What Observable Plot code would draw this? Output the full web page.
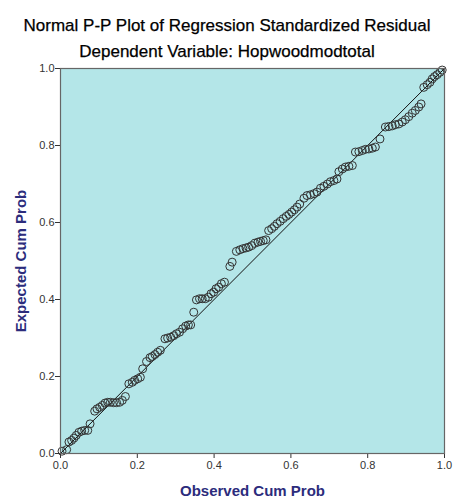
<!DOCTYPE html>
<html>
<head>
<meta charset="utf-8">
<script src="https://cdn.jsdelivr.net/npm/d3@7"></script>
<script src="https://cdn.jsdelivr.net/npm/@observablehq/plot@0.6"></script>
<style>
  html, body { margin: 0; padding: 0; background: #fff; }
  svg { display: block; }
</style>
</head>
<body>
<div id="chart"></div>
<script>
const title = "Normal P-P Plot of Regression Standardized Residual";
const subtitle = "Dependent Variable: Hopwoodmodtotal";
const xLabel = "Observed Cum Prob";
const yLabel = "Expected Cum Prob";
const tickValues = [0, 0.2, 0.4, 0.6, 0.8, 1.0];
const diagonal = [0, 1];

const observed = [
  0.004, 0.016, 0.022, 0.029, 0.035, 0.041, 0.048, 0.055, 0.063, 0.071,
  0.077, 0.089, 0.095, 0.102, 0.109, 0.116, 0.123, 0.130, 0.138, 0.146,
  0.154, 0.161, 0.169, 0.178, 0.187, 0.193, 0.201, 0.208, 0.214, 0.224,
  0.233, 0.239, 0.246, 0.253, 0.260, 0.272, 0.279, 0.287, 0.295, 0.302,
  0.310, 0.318, 0.326, 0.333, 0.339, 0.347, 0.354, 0.362, 0.369, 0.377,
  0.385, 0.392, 0.399, 0.405, 0.412, 0.419, 0.427, 0.441, 0.447, 0.458,
  0.467, 0.475, 0.483, 0.490, 0.498, 0.506, 0.514, 0.521, 0.528, 0.535,
  0.542, 0.550, 0.557, 0.564, 0.572, 0.580, 0.588, 0.595, 0.602, 0.609,
  0.616, 0.623, 0.634, 0.642, 0.651, 0.660, 0.668, 0.677, 0.686, 0.695,
  0.703, 0.712, 0.720, 0.725, 0.734, 0.742, 0.751, 0.760, 0.768, 0.777,
  0.786, 0.794, 0.803, 0.812, 0.820, 0.832, 0.846, 0.855, 0.864, 0.872,
  0.881, 0.890, 0.898, 0.907, 0.916, 0.924, 0.933, 0.939, 0.946, 0.955,
  0.962, 0.968, 0.974, 0.981, 0.988, 0.994
];
const expected = [
  0.006, 0.010, 0.030, 0.034, 0.040, 0.047, 0.055, 0.058, 0.060, 0.060,
  0.077, 0.110, 0.116, 0.120, 0.125, 0.131, 0.133, 0.133, 0.132, 0.132,
  0.133, 0.138, 0.148, 0.181, 0.185, 0.190, 0.194, 0.198, 0.220, 0.239,
  0.249, 0.252, 0.257, 0.263, 0.268, 0.298, 0.300, 0.302, 0.306, 0.311,
  0.315, 0.324, 0.331, 0.334, 0.334, 0.367, 0.399, 0.402, 0.402, 0.402,
  0.406, 0.415, 0.419, 0.428, 0.432, 0.441, 0.445, 0.486, 0.497, 0.525,
  0.529, 0.532, 0.534, 0.536, 0.540, 0.546, 0.549, 0.551, 0.553, 0.555,
  0.579, 0.584, 0.590, 0.597, 0.603, 0.610, 0.616, 0.621, 0.627, 0.633,
  0.640, 0.648, 0.663, 0.670, 0.672, 0.675, 0.679, 0.689, 0.694, 0.700,
  0.706, 0.709, 0.713, 0.732, 0.739, 0.744, 0.746, 0.748, 0.783, 0.784,
  0.787, 0.790, 0.791, 0.793, 0.796, 0.817, 0.848, 0.849, 0.851, 0.854,
  0.856, 0.861, 0.867, 0.875, 0.884, 0.891, 0.900, 0.908, 0.951, 0.958,
  0.964, 0.973, 0.979, 0.984, 0.990, 0.996
];

const points = observed.map((x, i) => ({x, y: expected[i]}));
const font = "'Liberation Sans', Arial, sans-serif";
const navy = "#2c2c7c";

const chart = Plot.plot({
  width: 453,
  height: 498,
  marginLeft: 60,
  marginRight: 9,
  marginTop: 68,
  marginBottom: 45,
  style: {fontFamily: font, fontSize: "11px", background: "#fff"},
  x: {domain: [0, 1], nice: false},
  y: {domain: [0, 1], nice: false},
  marks: [
    Plot.frame({fill: "#b4e6e8", stroke: null}),
    Plot.axisX({ticks: tickValues, tickFormat: d3.format(".1f"), tickSize: 5, tickPadding: 3, label: null, color: "#333"}),
    Plot.axisY({ticks: tickValues, tickFormat: d3.format(".1f"), tickSize: 5, tickPadding: 1, label: null, color: "#333"}),
    Plot.line(diagonal, {x: d => d, y: d => d, stroke: "#111", strokeWidth: 1}),
    Plot.dot(points, {x: "x", y: "y", r: 4, stroke: "#333", strokeWidth: 1, fill: "none"}),
    Plot.frame({stroke: "#666", strokeWidth: 1.2}),
    Plot.text([title], {text: d => d, frameAnchor: "top", lineAnchor: "bottom", dx: -25.5, dy: -38, fontSize: 17, fontFamily: font, fill: "#000", stroke: "#000", strokeWidth: 0.25}),
    Plot.text([subtitle], {text: d => d, frameAnchor: "top", lineAnchor: "bottom", dx: -25.5, dy: -12, fontSize: 17, fontFamily: font, fill: "#000", stroke: "#000", strokeWidth: 0.25}),
    Plot.text([xLabel], {text: d => d, frameAnchor: "bottom", lineAnchor: "bottom", dy: 42, fontSize: 15, fontWeight: "bold", fontFamily: font, fill: navy}),
    Plot.text([yLabel], {text: d => d, frameAnchor: "left", textAnchor: "middle", lineAnchor: "bottom", rotate: -90, dx: -35, fontSize: 15, fontWeight: "bold", fontFamily: font, fill: navy})
  ]
});
document.getElementById("chart").appendChild(chart);
</script>
</body>
</html>
